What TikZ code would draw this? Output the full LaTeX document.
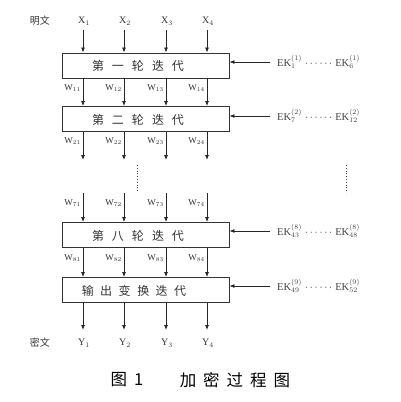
\documentclass[tikz,border=0pt]{standalone}
\usepackage{fontspec}
\setmainfont{Liberation Serif}
\newfontfamily\cjk{Noto Sans CJK SC}
\usetikzlibrary{arrows.meta}
\tikzset{
  roundbox/.style={draw=black!80, line width=0.9pt, minimum width=167pt, minimum height=25pt, inner sep=0pt},
  flow/.style={draw=black!85, line width=0.8pt, -{Latex[length=5pt,width=4pt]}},
  lab/.style={font=\fontsize{10}{11}\selectfont, text=black!80, inner sep=0pt},
  wlab/.style={font=\fontsize{9}{10}\selectfont, text=black!80, inner sep=0pt, anchor=east},
  cjklab/.style={font=\cjk\fontsize{10}{11}\selectfont, text=black!80, inner sep=0pt},
  boxtext/.style={font=\cjk\fontsize{12}{13}\selectfont, text=black!80, inner sep=0pt},
  eklab/.style={font=\fontsize{10.5}{11}\selectfont, text=black!75, inner sep=0pt, anchor=west},
  vdots/.style={draw=black!70, line width=0.8pt, dotted},
  caption/.style={font=\cjk\fontsize{16.5}{17}\selectfont, text=black, inner sep=0pt}
}
\begin{document}
\begin{tikzpicture}[x=1pt,y=-1pt]
\useasboundingbox (0,0) rectangle (401,402);
% boxes
\node[roundbox] (b1) at (145.5,65.5) {};
\node[roundbox] (b2) at (145.5,119) {};
\node[roundbox] (b3) at (145.5,235) {};
\node[roundbox] (b4) at (145.5,290) {};
\node[boxtext] (t1) at (138,66) {第\hspace{8pt}一\hspace{8pt}轮\hspace{8pt}迭\hspace{8pt}代};
\node[boxtext] (t2) at (138,120) {第\hspace{8pt}二\hspace{8pt}轮\hspace{8pt}迭\hspace{8pt}代};
\node[boxtext] (t3) at (138,236) {第\hspace{8pt}八\hspace{8pt}轮\hspace{8pt}迭\hspace{8pt}代};
\node[boxtext] (t4) at (134,291) {输\hspace{6.5pt}出\hspace{6.5pt}变\hspace{6.5pt}换\hspace{6.5pt}迭\hspace{6.5pt}代};
% inputs
\node[cjklab] (pt) at (40,21) {明文};
\node[lab] (x1) at (84,21) {X$_1$};
\node[lab] (x2) at (125,21) {X$_2$};
\node[lab] (x3) at (167,21) {X$_3$};
\node[lab] (x4) at (208,21) {X$_4$};
\foreach \i/\x in {1/83,2/124,3/166,4/207}{
  \coordinate (in\i) at (\x,30);
  \draw[flow] (in\i) -- (in\i |- b1.north);
  \coordinate (m\i) at (\x,78);
  \draw[flow] (m\i |- b1.south) -- (m\i |- b2.north);
  \coordinate (o\i) at (\x,160);
  \draw[flow] (o\i |- b2.south) -- (o\i);
  \coordinate (s\i) at (\x,193);
  \draw[flow] (s\i) -- (s\i |- b3.north);
  \draw[flow] (s\i |- b3.south) -- (s\i |- b4.north);
  \coordinate (e\i) at (\x,330);
  \draw[flow] (e\i |- b4.south) -- (e\i);
}
% W labels
\node[wlab] (w11) at (81,88) {W$_{11}$};
\node[wlab] (w12) at (122,88) {W$_{12}$};
\node[wlab] (w13) at (164,88) {W$_{13}$};
\node[wlab] (w14) at (205,88) {W$_{14}$};
\node[wlab] (w21) at (81,141) {W$_{21}$};
\node[wlab] (w22) at (122,141) {W$_{22}$};
\node[wlab] (w23) at (164,141) {W$_{23}$};
\node[wlab] (w24) at (205,141) {W$_{24}$};
\node[wlab] (w71) at (81,203) {W$_{71}$};
\node[wlab] (w72) at (122,203) {W$_{72}$};
\node[wlab] (w73) at (164,203) {W$_{73}$};
\node[wlab] (w74) at (205,203) {W$_{74}$};
\node[wlab] (w81) at (81,258) {W$_{81}$};
\node[wlab] (w82) at (122,258) {W$_{82}$};
\node[wlab] (w83) at (164,258) {W$_{83}$};
\node[wlab] (w84) at (205,258) {W$_{84}$};
% outputs
\node[cjklab] (ct) at (40,343) {密文};
\node[lab] (y1) at (84,343) {Y$_1$};
\node[lab] (y2) at (125,343) {Y$_2$};
\node[lab] (y3) at (167,343) {Y$_3$};
\node[lab] (y4) at (208,343) {Y$_4$};
% vertical dots
\coordinate (dl1) at (137,165);
\coordinate (dl2) at (137,191);
\draw[vdots] (dl1) -- (dl2);
\coordinate (dr1) at (346,165);
\coordinate (dr2) at (346,193);
\draw[vdots] (dr1) -- (dr2);
% key inputs
\foreach \i/\y in {1/62,2/116,3/231,4/286}{
  \coordinate (k\i) at (270,\y);
}
\draw[flow] (k1) -- (k1 -| b1.east);
\draw[flow] (k2) -- (k2 -| b2.east);
\draw[flow] (k3) -- (k3 -| b3.east);
\draw[flow] (k4) -- (k4 -| b4.east);
\node[eklab] (ek1) at (277,62) {EK$_1^{(1)}$\hspace{3pt}$\cdots\cdots$\hspace{3pt}EK$_6^{(1)}$};
\node[eklab] (ek2) at (277,116) {EK$_7^{(2)}$\hspace{3pt}$\cdots\cdots$\hspace{3pt}EK$_{12}^{(2)}$};
\node[eklab] (ek3) at (277,231) {EK$_{43}^{(8)}$\hspace{3pt}$\cdots\cdots$\hspace{3pt}EK$_{48}^{(8)}$};
\node[eklab] (ek4) at (277,286) {EK$_{49}^{(9)}$\hspace{3pt}$\cdots\cdots$\hspace{3pt}EK$_{52}^{(9)}$};
% caption
\node[caption] (cap1) at (127,380) {图\hspace{7pt}1};
\node[caption] (cap2) at (235,380) {加\hspace{7pt}密\hspace{7pt}过\hspace{7pt}程\hspace{7pt}图};
\end{tikzpicture}
\end{document}
